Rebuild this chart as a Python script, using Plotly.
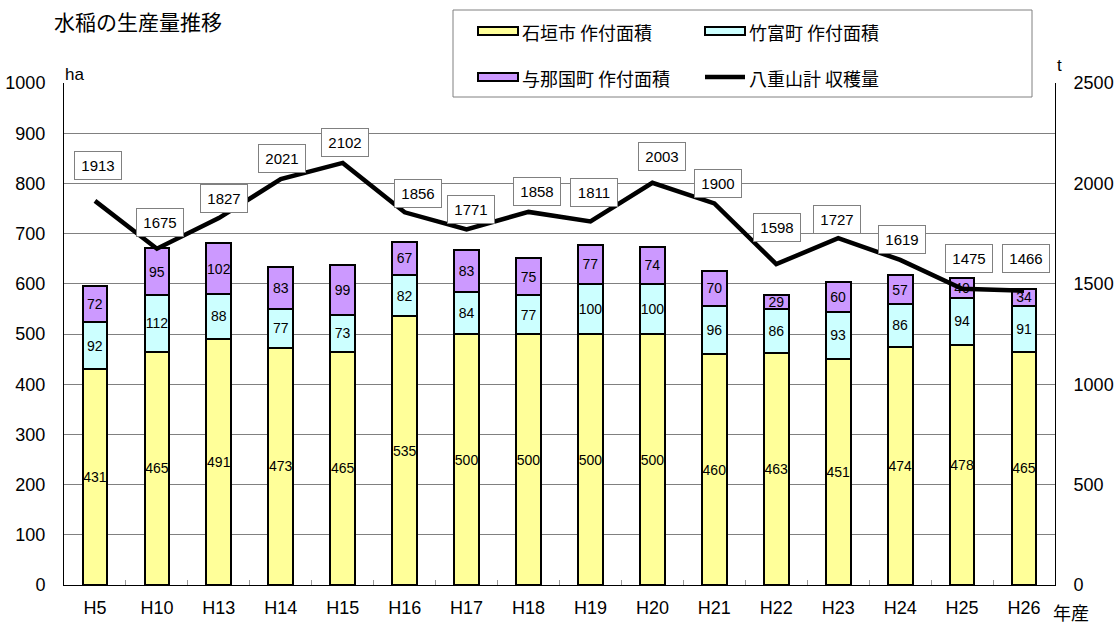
import plotly.graph_objects as go

# ---- data ----
years = ["H5", "H10", "H13", "H14", "H15", "H16", "H17", "H18", "H19", "H20",
         "H21", "H22", "H23", "H24", "H25", "H26"]
ishigaki_area = [431, 465, 491, 473, 465, 535, 500, 500, 500, 500, 460, 463, 451, 474, 478, 465]
taketomi_area = [92, 112, 88, 77, 73, 82, 84, 77, 100, 100, 96, 86, 93, 86, 94, 91]
yonaguni_area = [72, 95, 102, 83, 99, 67, 83, 75, 77, 74, 70, 29, 60, 57, 40, 34]
yaeyama_harvest = [1913, 1675, 1827, 2021, 2102, 1856, 1771, 1858, 1811, 2003,
                   1900, 1598, 1727, 1619, 1475, 1466]

series_names = ["石垣市 作付面積", "竹富町 作付面積", "与那国町 作付面積", "八重山計 収穫量"]
bar_colors = ["#FFFF99", "#CCFFFF", "#CC99FF"]
title_text = "水稲の生産量推移"

# label box offsets (pixels) relative to line points
label_dx = [3, 3, 5, 1, 2, 13, 4, 8, 4, 10, 4, 1, -1, 2, 7, 2]
label_dy = [35, 26, 20, 21, 20, 19, 20, 20, 29, 26, 20, 37, 19, 20, 30, 32]

W, H = 1116, 626
L, R, T, B = 64, 1055, 83, 585

NUM_FONT = "Liberation Sans, Arial, sans-serif"
JP_FONT = "Noto Sans CJK JP, sans-serif"


def px(xp):
    return (xp - L) / (R - L)


def py(yp):
    return (B - yp) / (B - T)


fig = go.Figure()

for vals, name, col in zip([ishigaki_area, taketomi_area, yonaguni_area], series_names[:3], bar_colors):
    fig.add_trace(go.Bar(
        x=years, y=vals, name=name, width=0.4,
        marker=dict(color=col, line=dict(color="black", width=2)),
        text=[str(v) for v in vals], textposition="inside", insidetextanchor="middle",
        textangle=0, constraintext="none",
        textfont=dict(family=NUM_FONT, size=14, color="black"),
        showlegend=False, hoverinfo="skip",
    ))

fig.add_trace(go.Scatter(
    x=years, y=yaeyama_harvest, name=series_names[3], mode="lines",
    line=dict(color="black", width=4.5), yaxis="y2", showlegend=False,
))

annotations = []
for i, (yr, v) in enumerate(zip(years, yaeyama_harvest)):
    annotations.append(dict(
        x=yr, y=v, xref="x", yref="y2", text=str(v), showarrow=False,
        xshift=label_dx[i], yshift=label_dy[i],
        font=dict(family=NUM_FONT, size=15, color="black"),
        bgcolor="white", bordercolor="#808080", borderwidth=1, borderpad=1,
        width=44, height=25,
    ))

# title & unit labels
annotations += [
    dict(x=px(52), y=py(21), xref="paper", yref="paper", text=title_text, showarrow=False,
         xanchor="left", yanchor="middle", font=dict(family=JP_FONT, size=21, color="black")),
    dict(x=px(63), y=py(74), xref="paper", yref="paper", text="ha", showarrow=False,
         xanchor="left", yanchor="middle", font=dict(family=NUM_FONT, size=17, color="black")),
    dict(x=px(1055), y=py(65), xref="paper", yref="paper", text="t", showarrow=False,
         xanchor="left", yanchor="middle", font=dict(family=NUM_FONT, size=17, color="black")),
    dict(x=px(1051), y=py(612), xref="paper", yref="paper", text="年産", showarrow=False,
         xanchor="left", yanchor="middle", font=dict(family=JP_FONT, size=18, color="black")),
]

# legend (manual)
shapes = [dict(type="rect", xref="paper", yref="paper", x0=px(453), x1=px(1032), y0=py(97), y1=py(10),
               fillcolor="white", line=dict(color="#808080", width=1), layer="above")]
leg_cols = [478, 705]
leg_rows = [32, 78]
for k, name in enumerate(series_names):
    cx = leg_cols[k % 2]
    cy = leg_rows[k // 2]
    if k < 3:
        shapes.append(dict(type="rect", xref="paper", yref="paper", x0=px(cx), x1=px(cx + 40),
                           y0=py(cy + 3), y1=py(cy - 5), fillcolor=bar_colors[k],
                           line=dict(color="black", width=2), layer="above"))
    else:
        shapes.append(dict(type="line", xref="paper", yref="paper", x0=px(cx), x1=px(cx + 40),
                           y0=py(cy - 1), y1=py(cy - 1), line=dict(color="black", width=4.5), layer="above"))
    annotations.append(dict(x=px(cx + 42), y=py(cy), xref="paper", yref="paper", text=name,
                            showarrow=False, xanchor="left", yanchor="middle",
                            font=dict(family=JP_FONT, size=18, color="black")))

fig.update_layout(
    width=W, height=H,
    margin=dict(l=L, r=W - R, t=T, b=H - B, autoexpand=False),
    barmode="stack",
    paper_bgcolor="white", plot_bgcolor="white",
    showlegend=False,
    xaxis=dict(type="category", showline=True, linecolor="black", linewidth=1,
               ticks="inside", tickson="boundaries", ticklen=5, tickcolor="#999999",
               ticklabelstandoff=6,
               tickfont=dict(family=NUM_FONT, size=18, color="black"), showgrid=False),
    yaxis=dict(range=[0, 1000], dtick=100, showline=True, linecolor="black", linewidth=1,
               gridcolor="#808080", gridwidth=1, zeroline=False, ticks="",
               ticklabelstandoff=14, tickfont=dict(family=NUM_FONT, size=18, color="black")),
    yaxis2=dict(range=[0, 2500], dtick=500, overlaying="y", side="right", showgrid=False,
                showline=True, linecolor="black", linewidth=1, zeroline=False, ticks="",
                ticklabelstandoff=14, tickfont=dict(family=NUM_FONT, size=18, color="black")),
    shapes=shapes,
    annotations=annotations,
)

fig.write_html("out.html", config={"displayModeBar": False},
               post_script="document.body.style.margin='0';document.body.style.padding='0';")
